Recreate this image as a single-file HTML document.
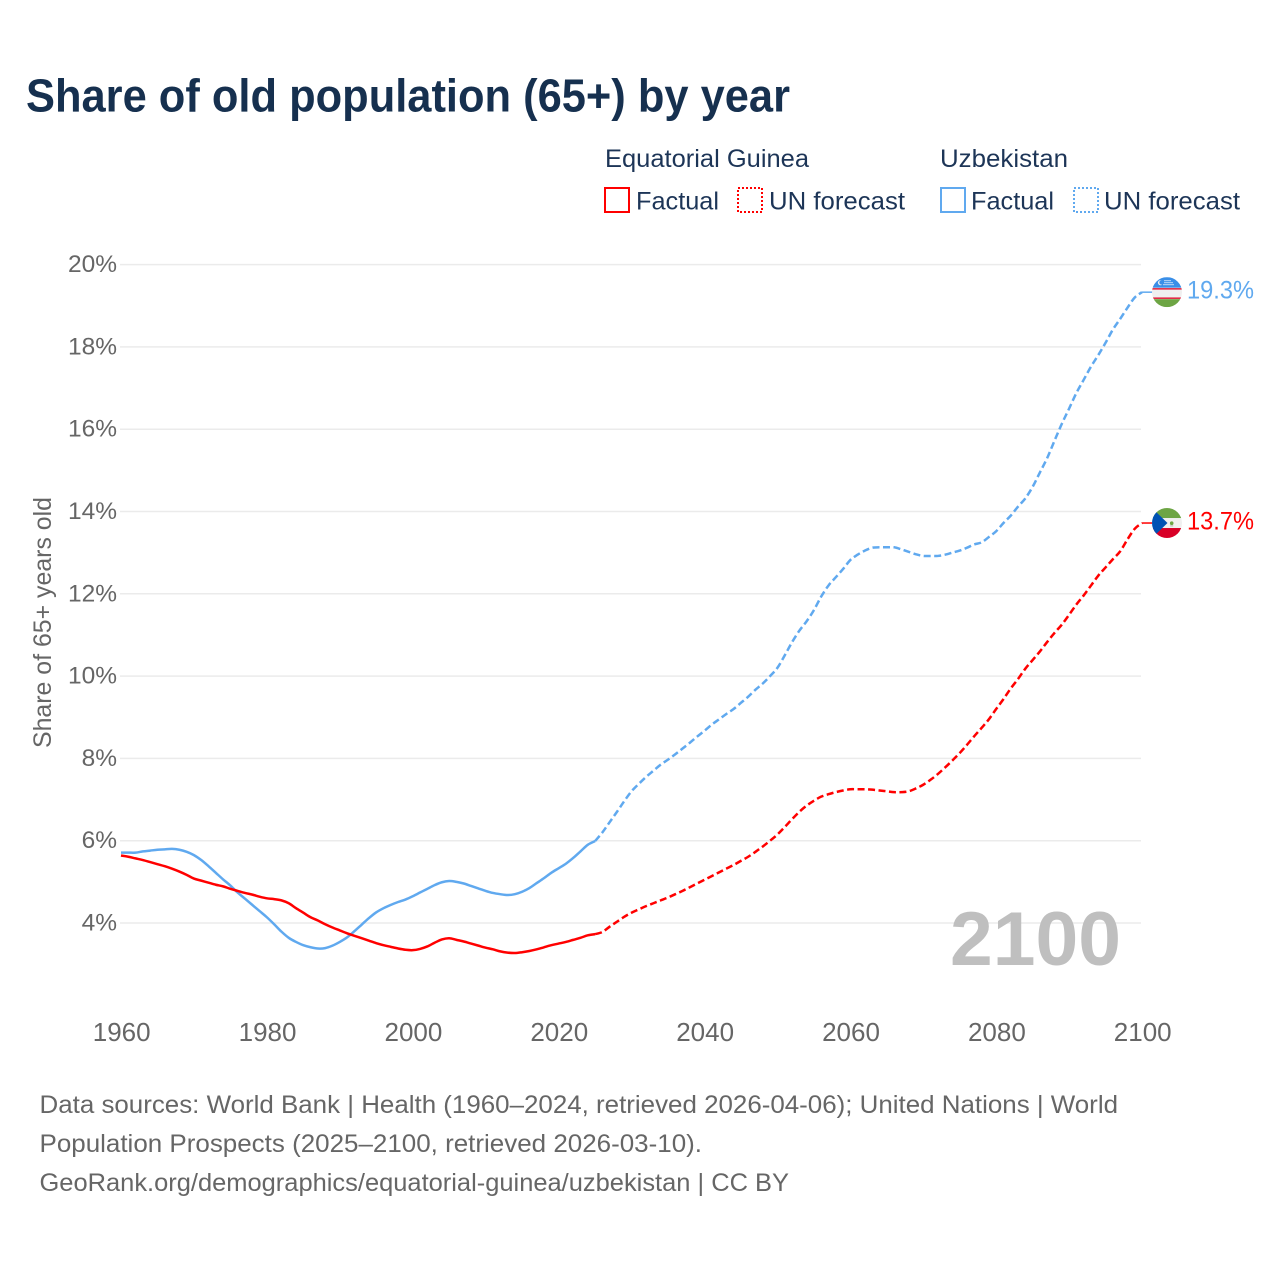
<!DOCTYPE html>
<html lang="en">
<head>
<meta charset="utf-8">
<title>Share of old population (65+) by year</title>
<style>
html,body{margin:0;padding:0;background:#fff;}
svg{display:block;font-family:"Liberation Sans",sans-serif;}
</style>
</head>
<body>
<svg id="chart" xmlns="http://www.w3.org/2000/svg" width="1280" height="1280" viewBox="0 0 1280 1280">
  <rect x="0" y="0" width="1280" height="1280" fill="#ffffff"/>
  <text x="26" y="111.5" font-size="46" font-weight="700" fill="#16304f" textLength="764" lengthAdjust="spacingAndGlyphs">Share of old population (65+) by year</text>

  <g font-size="25" fill="#1d3557">
    <text x="605" y="167" textLength="204" lengthAdjust="spacingAndGlyphs">Equatorial Guinea</text>
    <text x="940" y="167" textLength="128" lengthAdjust="spacingAndGlyphs">Uzbekistan</text>
    <rect x="605" y="188" width="24" height="24" fill="none" stroke="#ff0000" stroke-width="2"/>
    <text x="636" y="209.5" textLength="83" lengthAdjust="spacingAndGlyphs">Factual</text>
    <rect x="738" y="188" width="24" height="24" fill="none" stroke="#ff0000" stroke-width="2" stroke-dasharray="2 2"/>
    <text x="769" y="209.5" textLength="136" lengthAdjust="spacingAndGlyphs">UN forecast</text>
    <rect x="941" y="188" width="24" height="24" fill="none" stroke="#60a9ef" stroke-width="2"/>
    <text x="971" y="209.5" textLength="83" lengthAdjust="spacingAndGlyphs">Factual</text>
    <rect x="1074" y="188" width="24" height="24" fill="none" stroke="#60a9ef" stroke-width="2" stroke-dasharray="2 2"/>
    <text x="1104" y="209.5" textLength="136" lengthAdjust="spacingAndGlyphs">UN forecast</text>
  </g>

  <text transform="translate(51,748) rotate(-90)" font-size="25" fill="#666666" textLength="251" lengthAdjust="spacingAndGlyphs">Share of 65+ years old</text>

  <g id="grid"></g>
  <g id="y-ticks"></g>
  <g id="x-ticks"></g>

  <text x="950" y="965" font-size="76" font-weight="700" fill="#bfbfbf" textLength="171" lengthAdjust="spacingAndGlyphs">2100</text>

  <g id="series"></g>

  <defs>
    <clipPath id="uz-clip"><circle id="uz-clip-circle" cx="1167" cy="292" r="15"/></clipPath>
    <clipPath id="eg-clip"><circle id="eg-clip-circle" cx="1167" cy="523" r="15"/></clipPath>
  </defs>

  <g id="flag-uz" clip-path="url(#uz-clip)">
    <rect x="1152" y="277" width="30" height="30" fill="#f0f0f0"/>
    <rect x="1152" y="277" width="30" height="10.5" fill="#3a8fe8"/>
    <rect x="1152" y="299" width="30" height="8" fill="#6da544"/>
    <rect x="1152" y="288" width="30" height="1.4" fill="#e0102f"/>
    <rect x="1152" y="297.3" width="30" height="1.4" fill="#e0102f"/>
    <circle cx="1160.5" cy="282.5" r="2.6" fill="#f0f0f0"/>
    <circle cx="1161.5" cy="282.3" r="2.2" fill="#3a8fe8"/>
    <rect x="1164" y="280" width="7" height="1" fill="#bcd8f7"/>
    <rect x="1164" y="282" width="9" height="1" fill="#bcd8f7"/>
    <rect x="1163" y="284" width="11" height="1" fill="#bcd8f7"/>
  </g>
  <g id="flag-eg" clip-path="url(#eg-clip)">
    <rect x="1152" y="508" width="30" height="30" fill="#f0f0f0"/>
    <rect x="1152" y="508" width="30" height="10" fill="#6da544"/>
    <rect x="1152" y="528" width="30" height="10" fill="#d80027"/>
    <polygon points="1152,508 1167.5,523 1152,538" fill="#0052b4"/>
    <circle cx="1171.7" cy="523.2" r="1.8" fill="#6da544"/>
    <rect x="1170.2" y="525" width="3" height="1.6" fill="#c8c8c8"/>
  </g>
  <g id="end-labels"></g>

  <g font-size="25" fill="#666666">
    <text x="39.5" y="1113" textLength="1078.5" lengthAdjust="spacingAndGlyphs">Data sources: World Bank | Health (1960–2024, retrieved 2026-04-06); United Nations | World</text>
    <text x="39.5" y="1152" textLength="662.5" lengthAdjust="spacingAndGlyphs">Population Prospects (2025–2100, retrieved 2026-03-10).</text>
    <text x="39.5" y="1191" textLength="749.5" lengthAdjust="spacingAndGlyphs">GeoRank.org/demographics/equatorial-guinea/uzbekistan | CC BY</text>
  </g>
</svg>

<script>
const yTickValues = [4, 6, 8, 10, 12, 14, 16, 18, 20];
const xTickYears = [1960, 1980, 2000, 2020, 2040, 2060, 2080, 2100];
const factualStartYear = 1960;
const forecastStartYear = 2025;

const egFactual = [5.64,5.61,5.57,5.53,5.48,5.43,5.38,5.32,5.25,5.17,5.08,5.03,4.98,4.93,4.89,4.83,4.78,4.73,4.69,4.64,4.6,4.58,4.55,4.48,4.36,4.25,4.14,4.06,3.97,3.89,3.82,3.75,3.69,3.63,3.57,3.51,3.46,3.42,3.38,3.35,3.34,3.37,3.43,3.52,3.6,3.63,3.59,3.55,3.5,3.45,3.4,3.36,3.31,3.28,3.27,3.29,3.32,3.36,3.41,3.46,3.5,3.54,3.59,3.64,3.7,3.73];
const egForecast = [3.73,3.78,3.91,4.03,4.15,4.25,4.33,4.41,4.48,4.55,4.62,4.7,4.78,4.87,4.96,5.05,5.14,5.23,5.32,5.41,5.51,5.61,5.73,5.86,6.0,6.15,6.33,6.52,6.7,6.85,6.97,7.07,7.13,7.18,7.22,7.25,7.25,7.25,7.24,7.22,7.2,7.18,7.18,7.2,7.27,7.36,7.48,7.62,7.78,7.95,8.13,8.33,8.54,8.74,8.95,9.2,9.44,9.7,9.93,10.18,10.39,10.6,10.83,11.05,11.25,11.49,11.74,11.96,12.2,12.44,12.64,12.84,13.03,13.32,13.58,13.72];
const uzFactual = [5.71,5.71,5.71,5.74,5.76,5.78,5.79,5.8,5.78,5.73,5.65,5.53,5.38,5.22,5.06,4.91,4.74,4.59,4.44,4.29,4.14,3.97,3.79,3.64,3.54,3.46,3.41,3.38,3.39,3.45,3.54,3.65,3.8,3.96,4.12,4.26,4.36,4.44,4.51,4.57,4.65,4.74,4.83,4.92,4.99,5.02,5.0,4.96,4.9,4.84,4.78,4.73,4.7,4.68,4.7,4.76,4.85,4.97,5.09,5.22,5.33,5.44,5.58,5.74,5.9,5.99];
const uzForecast = [5.99,6.2,6.45,6.7,6.96,7.2,7.38,7.55,7.7,7.85,7.97,8.1,8.24,8.38,8.53,8.67,8.82,8.95,9.08,9.2,9.35,9.5,9.67,9.82,10.0,10.2,10.5,10.82,11.1,11.33,11.6,11.93,12.2,12.4,12.6,12.82,12.95,13.05,13.12,13.13,13.13,13.13,13.08,13.02,12.96,12.92,12.92,12.92,12.95,13.0,13.05,13.12,13.2,13.25,13.38,13.52,13.72,13.9,14.12,14.32,14.6,14.95,15.3,15.72,16.13,16.5,16.88,17.2,17.52,17.8,18.1,18.42,18.68,18.95,19.2,19.33];

const NS = 'http://www.w3.org/2000/svg';
function xScale(year) { return 121 + (year - 1960) * 7.293; }
function yScale(v) { return 923 - (v - 4) * 41.15; }
function el(tag, attrs, parent) {
  const n = document.createElementNS(NS, tag);
  for (const k in attrs) n.setAttribute(k, attrs[k]);
  parent.appendChild(n);
  return n;
}
function pathFor(values, startYear) {
  const pts = values.map(function (v, i) { return [xScale(startYear + i), yScale(v)]; });
  let d = 'M' + pts[0][0].toFixed(2) + ' ' + pts[0][1].toFixed(2);
  for (let i = 0; i < pts.length - 1; i++) {
    const p0 = pts[Math.max(i - 1, 0)], p1 = pts[i], p2 = pts[i + 1], p3 = pts[Math.min(i + 2, pts.length - 1)];
    const c1x = p1[0] + (p2[0] - p0[0]) / 6, c1y = p1[1] + (p2[1] - p0[1]) / 6;
    const c2x = p2[0] - (p3[0] - p1[0]) / 6, c2y = p2[1] - (p3[1] - p1[1]) / 6;
    d += 'C' + c1x.toFixed(2) + ' ' + c1y.toFixed(2) + ' ' + c2x.toFixed(2) + ' ' + c2y.toFixed(2) + ' ' + p2[0].toFixed(2) + ' ' + p2[1].toFixed(2);
  }
  return d;
}

const grid = document.getElementById('grid');
const yTicks = document.getElementById('y-ticks');
yTickValues.forEach(function (v) {
  const line = el('line', { x1: 120, x2: 1141, y1: yScale(v), y2: yScale(v), stroke: '#ebebeb', 'stroke-width': 1.5 }, grid);
  
  
  const label = el('text', { x: 117, y: yScale(v) + 7.5, 'text-anchor': 'end', 'font-size': 24.5, fill: '#666666' }, yTicks);
  
  
  label.textContent = v + '%';
});

const xTicks = document.getElementById('x-ticks');
xTickYears.forEach(function (yr) {
  const label = el('text', { x: xScale(yr) + 0.7, y: 1041, 'text-anchor': 'middle', 'font-size': 26, fill: '#666666' }, xTicks);
  
  
  label.textContent = yr;
});

const seriesGroup = document.getElementById('series');
function drawLine(values, startYear, color, dashed, name) {
  const attrs = { d: pathFor(values, startYear), fill: 'none', stroke: color, 'stroke-width': 2.5, 'stroke-linejoin': 'round' };
  if (dashed) attrs['stroke-dasharray'] = '7 3.5';
  const line = el('path', attrs, seriesGroup);
  
  
}
drawLine(uzFactual, factualStartYear, '#60a9ef', false, 'uzbekistan-factual-line');
drawLine(uzForecast, forecastStartYear, '#60a9ef', true, 'uzbekistan-forecast-line');
drawLine(egFactual, factualStartYear, '#ff0000', false, 'equatorial-guinea-factual-line');
drawLine(egForecast, forecastStartYear, '#ff0000', true, 'equatorial-guinea-forecast-line');

const endLabels = document.getElementById('end-labels');
function drawEnd(values, color, key, flagId, baseY) {
  const last = values[values.length - 1];
  const py = yScale(last);
  const conn = el('line', { x1: xScale(2100), x2: 1153, y1: py, y2: py, stroke: color, 'stroke-width': 1.5 }, seriesGroup);
  
  
  document.getElementById(flagId).setAttribute('transform', 'translate(0,' + (py - baseY) + ')');
  const label = el('text', { x: 1187, y: py + 6.5, 'font-size': 25, fill: color, textLength: 67, lengthAdjust: 'spacingAndGlyphs' }, endLabels);
  
  
  label.textContent = last.toFixed(1) + '%';
}
drawEnd(uzForecast, '#60a9ef', 'uzbekistan', 'flag-uz', 292);
drawEnd(egForecast, '#ff0000', 'equatorial-guinea', 'flag-eg', 523);
</script>
</body>
</html>
